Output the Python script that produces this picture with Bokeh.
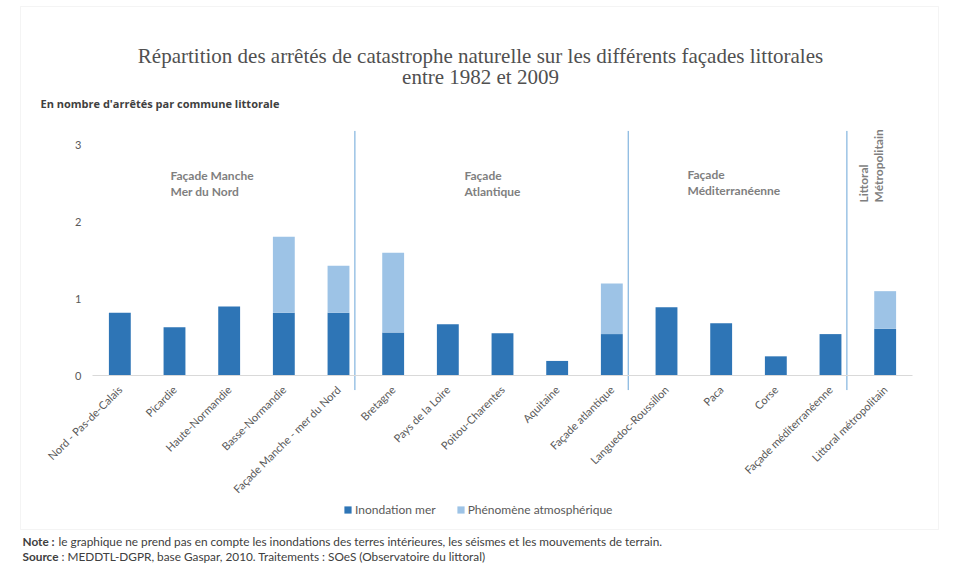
from math import pi

from bokeh.embed import file_html
from bokeh.models import (BoxAnnotation, ColumnDataSource, FixedTicker, Label,
                          Legend, LegendItem, LinearAxis, Range1d)
from bokeh.plotting import figure
from bokeh.resources import INLINE

# Catastrophe-naturelle orders per coastal commune, 1982-2009
categories = [
    "Nord - Pas-de-Calais", "Picardie", "Haute-Normandie", "Basse-Normandie",
    "Façade Manche - mer du Nord", "Bretagne", "Pays de la Loire",
    "Poitou-Charentes", "Aquitaine", "Façade atlantique",
    "Languedoc-Roussillon", "Paca", "Corse", "Façade méditerranéenne",
    "Littoral métropolitain",
]
inondation_mer = [0.82, 0.63, 0.90, 0.82, 0.82, 0.56, 0.67, 0.55, 0.19, 0.54,
                  0.89, 0.68, 0.25, 0.54, 0.61]
phenomene_atmo = [0.00, 0.00, 0.00, 0.99, 0.61, 1.04, 0.00, 0.00, 0.00, 0.66,
                  0.00, 0.00, 0.00, 0.00, 0.49]
series_names = ["Inondation mer", "Phénomène atmosphérique"]
y_ticks = [0, 1, 2, 3]

# last category of each coastal group: a separator is drawn just after it
group_ends = ["Façade Manche - mer du Nord", "Façade atlantique",
              "Façade méditerranéenne"]

DARK = "#2e75b6"
LIGHT = "#9dc3e6"
SEP = "#6aa5d8"
GREY_TXT = "#595959"
FONT = "Lato"

W, H = 956, 568
# canvas pixels of the value axis: x of the first slot, x of the end of the
# last slot, y of 0 and px per unit
X0, X1, Y0, PX_Y = 92, 912, 375, 76.67
n = len(categories)
px_x = (X1 - X0) / n

x_pos = [i + 0.5 for i in range(n)]
source = ColumnDataSource(dict(x=x_pos, inond=inondation_mer,
                               atmo=phenomene_atmo))

p = figure(width=W, height=H, output_backend="svg", toolbar_location=None,
           x_range=Range1d(-X0 / px_x, n + (W - X1) / px_x),
           y_range=Range1d(-(H - Y0) / PX_Y, Y0 / PX_Y),
           min_border=0, title_location=None, x_axis_type=None,
           y_axis_type=None)
p.outline_line_color = None
p.background_fill_color = "white"
p.border_fill_color = "white"

bars = p.vbar_stack(["inond", "atmo"], x="x", width=0.4, color=[DARK, LIGHT],
                    line_color=None, source=source)

# separators between the coastal groups
sep_x = [categories.index(c) + 0.8 for c in group_ends]
p.segment(x0=sep_x, x1=sep_x, y0=[-0.19] * len(sep_x),
          y1=[3.19] * len(sep_x), line_color=SEP, line_width=1)

# axes pinned inside the canvas
xaxis = LinearAxis(fixed_location=0, ticker=FixedTicker(ticks=x_pos),
                   major_label_overrides={x: c for x, c in zip(x_pos, categories)},
                   bounds=(0, n))
xaxis.axis_line_color = "#d9d9d9"
xaxis.axis_line_width = 1
xaxis.major_tick_line_color = None
xaxis.minor_tick_line_color = None
xaxis.major_label_orientation = pi / 4
xaxis.major_label_standoff = 6
xaxis.major_label_text_font = FONT
xaxis.major_label_text_font_size = "11px"
xaxis.major_label_text_color = GREY_TXT
p.add_layout(xaxis, "below")

yaxis = LinearAxis(fixed_location=0, ticker=FixedTicker(ticks=y_ticks))
yaxis.axis_line_color = None
yaxis.major_tick_line_color = None
yaxis.minor_tick_line_color = None
yaxis.major_label_standoff = 5
yaxis.major_label_text_font = FONT
yaxis.major_label_text_font_size = "11px"
yaxis.major_label_text_color = GREY_TXT
p.add_layout(yaxis, "left")

p.xgrid.visible = False
p.ygrid.ticker = FixedTicker(ticks=y_ticks)
p.ygrid.bounds = (0, n)
p.ygrid.grid_line_color = "#d9d9d9"
p.ygrid.grid_line_width = 1


def sx(cx):
    return cx


def sy(cy):
    return H - cy


def label(text, cx, cy, size, color, bold=False, align="left", angle=0.0,
          font=FONT):
    p.add_layout(Label(x=sx(cx), y=sy(cy), x_units="screen", y_units="screen",
                       text=text, text_font=font, text_font_size=size,
                       text_color=color, text_align=align,
                       text_baseline="middle", angle=angle,
                       text_font_style="bold" if bold else "normal"))


# outer frame of the chart
p.add_layout(BoxAnnotation(left=sx(20), right=sx(938), top=sy(6), bottom=sy(529),
                           left_units="screen", right_units="screen",
                           top_units="screen", bottom_units="screen",
                           fill_color=None, line_color="#d9d9d9", line_width=1,
                           level="underlay"))

# title and unit
TITLE_FONT = "Liberation Serif"
label("Répartition des arrêtés de catastrophe naturelle sur les différents façades littorales",
      480, 55, "21px", "#505050", align="center", font=TITLE_FONT)
label("entre 1982 et 2009", 480, 76, "21px", "#505050", align="center",
      font=TITLE_FONT)
label("En nombre d'arrêtés par commune littorale", 40, 103, "11px", "#404040",
      bold=True, font="Open Sans")

# group names
GRP = "#7f7f7f"
label("Façade Manche", 170, 175, "12px", GRP, bold=True)
label("Mer du Nord", 170, 191, "12px", GRP, bold=True)
label("Façade", 464, 175, "12px", GRP, bold=True)
label("Atlantique", 464, 191, "12px", GRP, bold=True)
label("Façade", 687, 174, "12px", GRP, bold=True)
label("Méditerranéenne", 687, 190, "12px", GRP, bold=True)
label("Littoral", 863, 202, "12px", GRP, bold=True, angle=pi / 2)
label("Métropolitain", 878, 202, "12px", GRP, bold=True, angle=pi / 2)

# legend below the category labels
legend = Legend(items=[LegendItem(label=series_names[0], renderers=[bars[0]]),
                       LegendItem(label=series_names[1], renderers=[bars[1]])],
                orientation="horizontal", location=(sx(343), sy(517)),
                glyph_width=9, glyph_height=9, label_standoff=3, spacing=20,
                padding=0, margin=0, border_line_color=None,
                background_fill_color=None, background_fill_alpha=0,
                label_text_font=FONT, label_text_font_size="12px",
                label_text_color=GREY_TXT, label_height=12)
p.add_layout(legend, "center")

# notes under the chart
NOTE = "11.8px"
label("Note :", 22, 541, NOTE, "#404040", bold=True)
label("le graphique ne prend pas en compte les inondations des terres intérieures, les séismes et les mouvements de terrain.",
      58, 541, NOTE, "#404040")
label("Source", 22, 556, NOTE, "#404040", bold=True)
label(": MEDDTL-DGPR, base Gaspar, 2010. Traitements : SOeS (Observatoire du littoral)",
      61, 556, NOTE, "#404040")

open("out.html", "w").write(file_html(p, INLINE))
